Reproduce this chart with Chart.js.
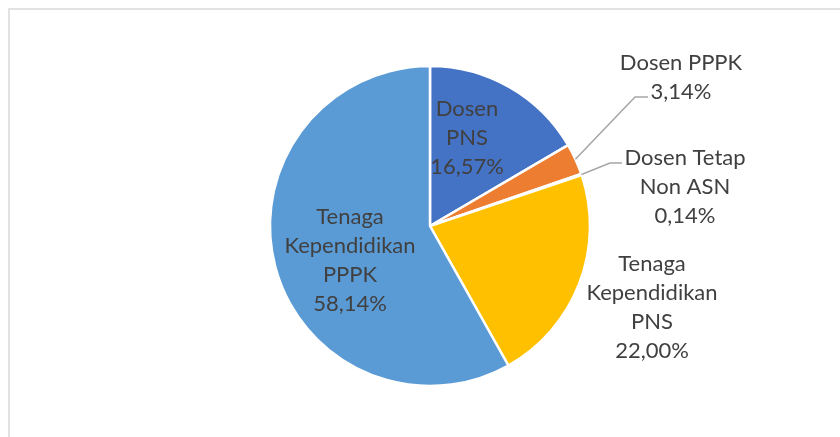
<!DOCTYPE html>
<html>
<head>
<meta charset="utf-8">
<script src="https://cdn.jsdelivr.net/npm/chart.js@4/dist/chart.umd.min.js"></script>
<style>
  html, body { margin: 0; padding: 0; background: #ffffff; }
  #wrap { width: 840px; height: 437px; position: relative; }
</style>
</head>
<body>
<div id="wrap"><canvas id="c" width="840" height="437"></canvas></div>
<script>
// ---- data ----
const categories = ['Dosen PNS', 'Dosen PPPK', 'Dosen Tetap Non ASN', 'Tenaga Kependidikan PNS', 'Tenaga Kependidikan PPPK'];
const values = [16.57, 3.14, 0.14, 22.00, 58.14];
const labelNameLines = [
  ['Dosen', 'PNS'],
  ['Dosen PPPK'],
  ['Dosen Tetap', 'Non ASN'],
  ['Tenaga', 'Kependidikan', 'PNS'],
  ['Tenaga', 'Kependidikan', 'PPPK']
];
const colors = ['#4472C4', '#ED7D31', '#A5A5A5', '#FFC000', '#5B9BD5'];

// label placement (text centre x, first baseline y, optional leader elbow/end)
const labelLayout = [
  { x: 467, y: 116 },
  { x: 681, y: 70, elbow: [635, 97], end: [648, 97] },
  { x: 685, y: 165, elbow: [610, 163], end: [622, 163] },
  { x: 652, y: 271 },
  { x: 350, y: 224 }
];

function fmtPct(v) { return v.toFixed(2).replace('.', ',') + '%'; }

const FONT = '22px Lato, "Open Sans", sans-serif';
const LINE_H = 29;

const frame = {
  id: 'frame',
  beforeDraw(chart) {
    const ctx = chart.ctx;
    ctx.save();
    ctx.fillStyle = '#ffffff';
    ctx.fillRect(0, 0, chart.width, chart.height);
    ctx.strokeStyle = '#D9D9D9';
    ctx.lineWidth = 1.5;
    ctx.strokeRect(9, 9, 1000, 1000);
    ctx.restore();
  }
};

const labelsPlugin = {
  id: 'labelsPlugin',
  afterDatasetsDraw(chart) {
    const ctx = chart.ctx;
    const meta = chart.getDatasetMeta(0);
    ctx.save();
    meta.data.forEach((arc, i) => {
      const L = labelLayout[i];
      const p = arc.getProps(['x', 'y', 'startAngle', 'endAngle', 'outerRadius'], true);
      if (L.elbow) {
        const mid = (p.startAngle + p.endAngle) / 2;
        const sx = p.x + Math.cos(mid) * p.outerRadius;
        const sy = p.y + Math.sin(mid) * p.outerRadius;
        ctx.strokeStyle = '#A6A6A6';
        ctx.lineWidth = 1.5;
        ctx.beginPath();
        ctx.moveTo(sx, sy);
        ctx.lineTo(L.elbow[0], L.elbow[1]);
        ctx.lineTo(L.end[0], L.end[1]);
        ctx.stroke();
      }
      const lines = labelNameLines[i].concat([fmtPct(values[i])]);
      ctx.font = FONT;
      ctx.fillStyle = '#404040';
      ctx.textAlign = 'center';
      ctx.textBaseline = 'alphabetic';
      lines.forEach((t, k) => ctx.fillText(t, L.x, L.y + k * LINE_H));
    });
    ctx.restore();
  }
};

new Chart(document.getElementById('c'), {
  type: 'pie',
  data: {
    labels: categories,
    datasets: [{
      data: values,
      backgroundColor: colors,
      borderColor: '#ffffff',
      borderWidth: 2.5
    }]
  },
  options: {
    responsive: false,
    animation: false,
    devicePixelRatio: 1,
    radius: 160,
    layout: { padding: { top: 66, bottom: 51, left: 20, right: 0 } },
    plugins: {
      legend: { display: false },
      tooltip: { enabled: false },
      title: { display: false }
    }
  },
  plugins: [frame, labelsPlugin]
});
</script>
</body>
</html>
